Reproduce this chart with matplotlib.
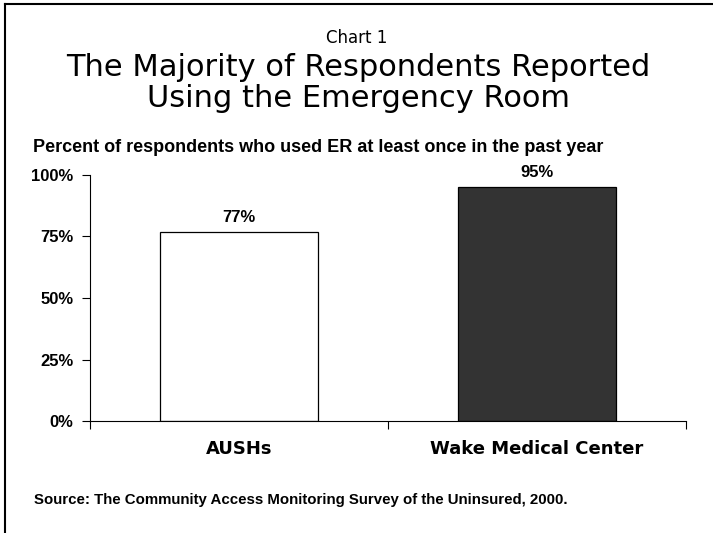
import matplotlib.pyplot as plt
from matplotlib.lines import Line2D

categories = ['AUSHs', 'Wake Medical Center']
values = [77, 95]
bar_colors = ['white', '#333333']
yticks = [0, 25, 50, 75, 100]

plt.rcParams['font.family'] = ['Liberation Sans', 'DejaVu Sans']

fig = plt.figure(figsize=(7.13, 5.33), dpi=100)
ax = fig.add_axes([90/713, 112/533, 596/713, 246/533])

x = [0.5, 1.5]
ax.bar(x, values, width=0.53, color=bar_colors, edgecolor='black', linewidth=0.9)
for xi, v in zip(x, values):
    ax.annotate(f'{v}%', (xi, v), xytext=(0, 5), textcoords='offset points',
                ha='center', va='bottom', fontsize=12, fontweight='bold')

ax.set_xlim(0, 2)
ax.set_ylim(0, 100)
ax.set_yticks(yticks)
ax.set_yticklabels([f'{t}%' for t in yticks], fontsize=12, fontweight='bold')
ax.set_xticks([0, 1, 2])
ax.set_xticklabels([])
ax.set_xticks(x, minor=True)
ax.set_xticklabels(categories, minor=True, fontsize=13, fontweight='bold', family='DejaVu Sans')
ax.tick_params(axis='x', which='minor', length=0, pad=14)
ax.tick_params(axis='x', which='major', direction='out', length=6, width=0.8)
ax.tick_params(axis='y', direction='out', length=6, width=0.8, pad=6)
for s in ['top', 'right']:
    ax.spines[s].set_visible(False)
for s in ['left', 'bottom']:
    ax.spines[s].set_linewidth(0.8)

fig.text(357/713, 1 - 38/533, 'Chart 1', ha='center', va='center', fontsize=12, family='DejaVu Sans')
fig.text(358/713, 1 - 83/533, 'The Majority of Respondents Reported\nUsing the Emergency Room',
         ha='center', va='center', fontsize=22, family='DejaVu Sans', linespacing=1.1)
fig.text(33/713, 1 - 147/533, 'Percent of respondents who used ER at least once in the past year',
         ha='left', va='center', fontsize=13, fontweight='bold')
fig.text(34/713, 1 - 500/533, 'Source: The Community Access Monitoring Survey of the Uninsured, 2000.',
         ha='left', va='center', fontsize=10.8, fontweight='bold')

fig.add_artist(Line2D([5/713, 1], [1 - 4/533, 1 - 4/533], color='black', linewidth=1.5, transform=fig.transFigure))
fig.add_artist(Line2D([5/713, 5/713], [0, 1 - 4/533], color='black', linewidth=1.5, transform=fig.transFigure))

fig.savefig('out.png', dpi=100)
